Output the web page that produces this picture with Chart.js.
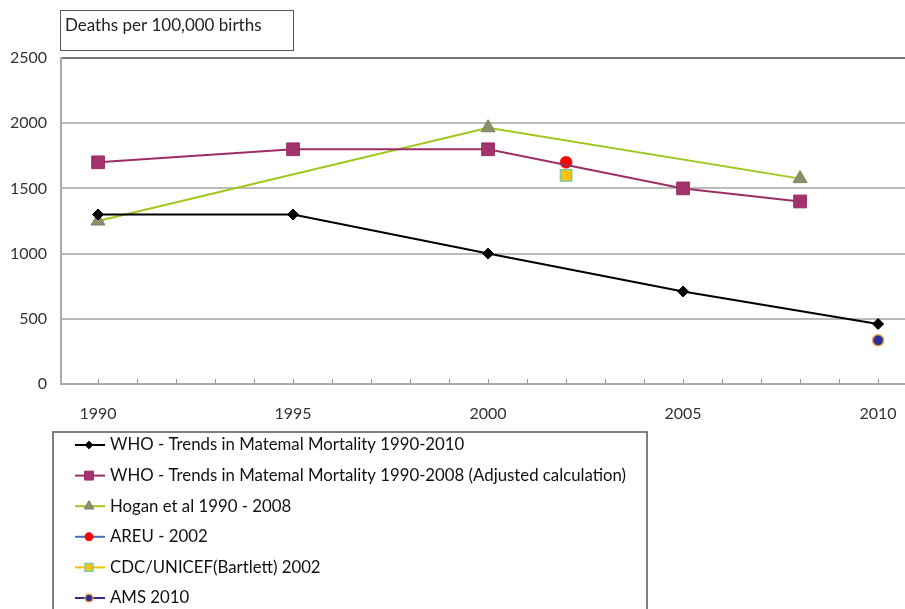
<!DOCTYPE html>
<html>
<head>
<meta charset="utf-8">
<script src="https://cdn.jsdelivr.net/npm/chart.js@4.4.0/dist/chart.umd.min.js"></script>
<style>
  html, body { margin: 0; padding: 0; background: #fff; overflow: hidden; }
  #wrap { width: 905px; height: 609px; position: relative; }
</style>
</head>
<body>
<div id="wrap"><canvas id="c" width="905" height="609"></canvas></div>
<script>
// ---- data ----
const titleText = 'Deaths per 100,000 births';
const whoYears = [1990, 1995, 2000, 2005, 2010];
const whoValues = [1300, 1300, 1000, 710, 460];
const adjYears = [1990, 1995, 2000, 2005, 2008];
const adjValues = [1700, 1800, 1800, 1500, 1400];
const hoganYears = [1990, 2000, 2008];
const hoganValues = [1250, 1965, 1575];
const areuYears = [2002];
const areuValues = [1700];
const cdcYears = [2002];
const cdcValues = [1600];
const amsYears = [2010];
const amsValues = [335];
const seriesLabels = [
  'WHO - Trends in Matemal Mortality 1990-2010',
  'WHO - Trends in Matemal Mortality 1990-2008 (Adjusted calculation)',
  'Hogan et al 1990 - 2008',
  'AREU - 2002',
  'CDC/UNICEF(Bartlett) 2002',
  'AMS 2010'
];
const xLabelYears = [1990, 1995, 2000, 2005, 2010];
const yTicks = [0, 500, 1000, 1500, 2000, 2500];

function pts(xs, ys) { return xs.map((x, i) => ({ x: x, y: ys[i] })); }

const FONT = 'Lato, "Liberation Sans", Arial, sans-serif';

const datasets = [
  { label: seriesLabels[0], data: pts(whoYears, whoValues), borderColor: '#000', backgroundColor: '#000',
    borderWidth: 2, pointStyle: 'rectRot', pointRadius: 5.5, pointBorderWidth: 1, pointBorderColor: '#000', legendLine: '#000' },
  { label: seriesLabels[1], data: pts(adjYears, adjValues), borderColor: '#9B2F63', backgroundColor: '#A3336D',
    borderWidth: 2, pointStyle: 'rect', pointRadius: 9, pointBorderWidth: 1, pointBorderColor: '#9B2F63', legendLine: '#9B2F63' },
  { label: seriesLabels[2], data: pts(hoganYears, hoganValues), borderColor: '#9FC81E', backgroundColor: '#8E8E6A',
    borderWidth: 2, pointStyle: 'triangle', pointRadius: 8, pointBorderWidth: 1, pointBorderColor: '#7E7E5E', legendLine: '#9FC81E' },
  { label: seriesLabels[3], data: pts(areuYears, areuValues), borderColor: '#4A6FB5', backgroundColor: '#FF0000',
    borderWidth: 2, pointStyle: 'circle', pointRadius: 6, pointBorderWidth: 0.5, pointBorderColor: '#E00000', legendLine: '#4A6FB5' },
  { label: seriesLabels[4], data: pts(cdcYears, cdcValues), borderColor: '#F5C000', backgroundColor: '#FFC20E',
    borderWidth: 2, pointStyle: 'rect', pointRadius: 8, pointBorderWidth: 1.5, pointBorderColor: '#7ACB9A', legendLine: '#F5C000' },
  { label: seriesLabels[5], data: pts(amsYears, amsValues), borderColor: '#2B2E8C', backgroundColor: '#2B2E9A',
    borderWidth: 2, pointStyle: 'circle', pointRadius: 5.5, pointBorderWidth: 1.5, pointBorderColor: '#E0A040', legendLine: '#2B2E8C' }
];
datasets.forEach(d => { d.showLine = true; d.pointHoverRadius = d.pointRadius; d.fill = false; });

const decorPlugin = {
  id: 'decor',
  afterDraw(chart) {
    const ctx = chart.ctx;
    const xs = chart.scales.x;
    const area = chart.chartArea;
    ctx.save();
    // minor tick marks (inside, pointing up) at each whole year
    ctx.strokeStyle = '#999';
    ctx.lineWidth = 1;
    xs.ticks.forEach(t => {
      if (!Number.isInteger(t.value)) return;
      const px = Math.round(xs.getPixelForValue(t.value)) + 0.5;
      ctx.beginPath();
      ctx.moveTo(px, area.bottom);
      ctx.lineTo(px, area.bottom - 5);
      ctx.stroke();
    });
    // title box
    ctx.strokeStyle = '#555';
    ctx.lineWidth = 1;
    ctx.strokeRect(60.5, 10.5, 233, 40);
    ctx.fillStyle = '#222';
    ctx.font = '17px ' + FONT;
    ctx.textBaseline = 'middle';
    ctx.textAlign = 'left';
    ctx.fillText(titleText, 65, 26);
    // legend box
    ctx.strokeStyle = '#555';
    ctx.lineWidth = 1.5;
    ctx.strokeRect(53, 432, 594, 200);
    chart.data.datasets.forEach((d, i) => {
      const y = 445 + i * 30.6;
      ctx.strokeStyle = d.legendLine;
      ctx.lineWidth = 2;
      ctx.beginPath();
      ctx.moveTo(75, y);
      ctx.lineTo(105, y);
      ctx.stroke();
      ctx.fillStyle = d.backgroundColor;
      ctx.strokeStyle = d.pointBorderColor;
      ctx.lineWidth = d.pointBorderWidth;
      Chart.helpers.drawPoint(ctx, { pointStyle: d.pointStyle, radius: d.pointRadius * 0.7, borderWidth: d.pointBorderWidth, rotation: 0 }, 89, y);
      ctx.fillStyle = '#111';
      ctx.font = '16.8px ' + FONT;
      ctx.textBaseline = 'middle';
      ctx.fillText(d.label, 110, y);
    });
    ctx.restore();
  }
};

new Chart(document.getElementById('c'), {
  type: 'scatter',
  data: { datasets: datasets },
  options: {
    responsive: false,
    animation: false,
    layout: { autoPadding: false, padding: { top: 58, right: 0, left: 0, bottom: 0 } },
    plugins: { legend: { display: false }, tooltip: { enabled: false } },
    scales: {
      x: {
        type: 'linear', min: 1989.05, max: 2010.69,
        afterFit(s) { s.height = 225; s.paddingLeft = 0; s.paddingRight = 0; },
        afterBuildTicks(s) {
          const t = [];
          for (let v = 1989; v <= 2011; v++) if (v >= s.min && v <= s.max) t.push({ value: v });
          s.ticks = t;
        },
        grid: { display: false },
        border: { display: true, color: '#aaa', width: 2 },
        ticks: {
          autoSkip: false, maxRotation: 0, padding: 12,
          color: '#333', font: { size: 16, family: FONT },
          callback: v => xLabelYears.includes(v) ? String(v) : ''
        }
      },
      y: {
        min: 0, max: 2500,
        afterFit(s) { s.width = 61; },
        afterBuildTicks(s) { s.ticks = yTicks.map(v => ({ value: v })); },
        grid: {
          drawTicks: false,
          color: c => c.tick && c.tick.value === 2500 ? '#777' : (c.tick && c.tick.value === 0 ? 'rgba(0,0,0,0)' : '#bbb'),
          lineWidth: 2
        },
        border: { display: true, color: '#aaa', width: 2 },
        ticks: { padding: 14, color: '#333', font: { size: 16, family: FONT }, callback: v => String(v) }
      }
    }
  },
  plugins: [decorPlugin]
});
</script>
</body>
</html>
